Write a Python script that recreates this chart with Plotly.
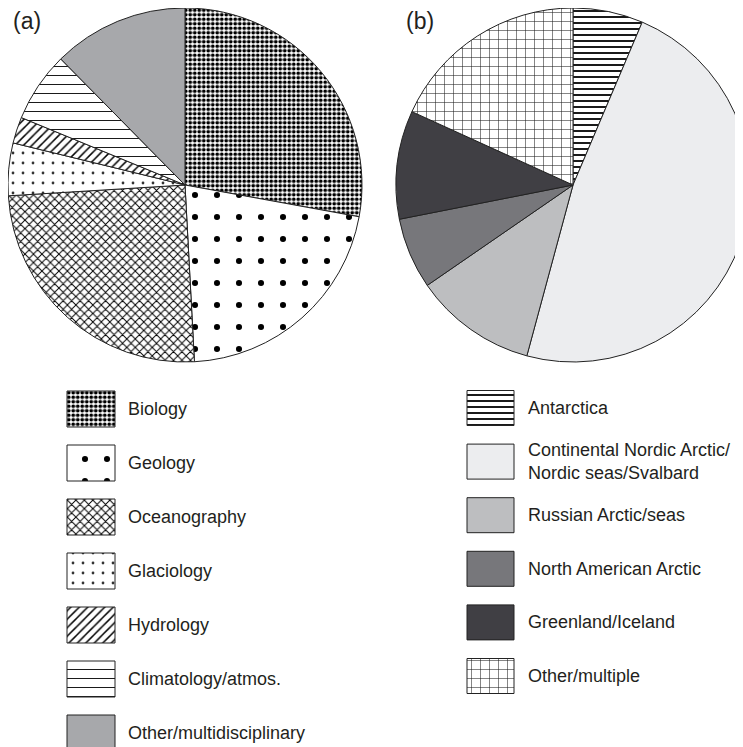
import plotly.graph_objects as go

# ---------------- data ----------------
disc_labels = ["Biology", "Geology", "Oceanography", "Glaciology", "Hydrology",
               "Climatology/atmos.", "Other/multidisciplinary"]
disc_values = [27.9, 21.3, 24.9, 4.8, 2.4, 6.4, 12.4]

region_labels = ["Antarctica", "Continental Nordic Arctic/<br>Nordic seas/Svalbard",
                 "Russian Arctic/seas", "North American Arctic", "Greenland/Iceland",
                 "Other/multiple"]
region_values = [6.4, 47.8, 11.2, 6.5, 9.9, 18.2]

# ---------------- styles ----------------
OFF = 8                      # page body margin of the browser
WF, HF = 760, 760            # figure size (right/bottom overflow is cut by the window)
FONT = "Liberation Sans, Arial, sans-serif"
TXT = "#231F20"

a_shape = [".", ".", "x", ".", "/", "-", ""]
a_size = [4.5, 22, 6, 10, 6, 9, 8]
a_solid = [0.55, 0.06, 0.3, 0.06, 0.25, 0.1, 0.3]
a_bg = ["white", "white", "white", "white", "white", "white", "#A7A8AB"]
a_fg = ["black", "black", "black", "#333333", "black", "black", "#A7A8AB"]

b_shape = ["-", "", "", "", "", "+"]
b_size = [6, 8, 8, 8, 8, 9]
b_solid = [0.3, 0.3, 0.3, 0.3, 0.3, 0.12]
b_bg = ["white", "#ECEDEF", "#BDBEC0", "#77777B", "#403F44", "white"]
b_fg = ["black", "#ECEDEF", "#BDBEC0", "#77777B", "#403F44", "#222222"]


def sx(x):
    return x - OFF


def sy(y):
    return y - OFF


fig = go.Figure()

R = 177
for vals, labs, cx, bg, fg, shp, sz, so in [
    (disc_values, disc_labels, 185, a_bg, a_fg, a_shape, a_size, a_solid),
    (region_values, region_labels, 573, b_bg, b_fg, b_shape, b_size, b_solid),
]:
    cxf, cyf = sx(cx), sy(185)
    fig.add_trace(go.Pie(
        values=vals, labels=labs, sort=False, direction="clockwise",
        rotation=0, textinfo="none", showlegend=False,
        domain=dict(x=[max(0, (cxf - R) / WF), (cxf + R) / WF],
                    y=[(HF - cyf - R) / HF, min(1, (HF - cyf + R) / HF)]),
        marker=dict(colors=bg, line=dict(color="#222222", width=1),
                    pattern=dict(shape=shp, size=sz, solidity=so,
                                 fgcolor=fg, bgcolor=bg, fillmode="replace")),
    ))

# legend boxes: one horizontal bar per item on a pixel-scaled hidden axis
a_rows = [409 + 54 * i for i in range(len(disc_labels))]
b_rows = [408 + 53.6 * i for i in range(len(region_labels))]

annotations = []
for rows, labs, bx, bw, bh, tx, bg, fg, shp, sz, so in [
    (a_rows, disc_labels, 67, 48, 36, 126, a_bg, a_fg, a_shape, a_size, a_solid),
    (b_rows, region_labels, 467, 47, 35, 526, b_bg, b_fg, b_shape, b_size, b_solid),
]:
    for i, (y, lab) in enumerate(zip(rows, labs)):
        fig.add_trace(go.Bar(
            orientation="h", y=[sy(y)], x=[bw], base=[sx(bx)], width=bh,
            showlegend=False, hoverinfo="none",
            marker=dict(color=bg[i], line=dict(color="#222222", width=1),
                        pattern=dict(shape=shp[i], size=sz[i], solidity=so[i],
                                     fgcolor=fg[i], bgcolor=bg[i], fillmode="replace")),
        ))
        annotations.append(dict(x=sx(tx), y=sy(y), xref="x", yref="y", text=lab,
                                showarrow=False, xanchor="left", yanchor="middle",
                                align="left", font=dict(size=18, color=TXT, family=FONT)))

for txt, x in [("(a)", 11), ("(b)", 404)]:
    annotations.append(dict(x=sx(x), y=sy(21), xref="x", yref="y", text=txt,
                            showarrow=False, xanchor="left", yanchor="middle",
                            font=dict(size=23, color=TXT, family=FONT)))

fig.update_layout(
    width=WF, height=HF, margin=dict(l=0, r=0, t=0, b=0),
    paper_bgcolor="white", plot_bgcolor="rgba(0,0,0,0)",
    barmode="overlay",
    xaxis=dict(range=[0, WF], visible=False, fixedrange=True),
    yaxis=dict(range=[HF, 0], visible=False, fixedrange=True),
    annotations=annotations,
    font=dict(family=FONT),
)

fig.write_html("out.html")
